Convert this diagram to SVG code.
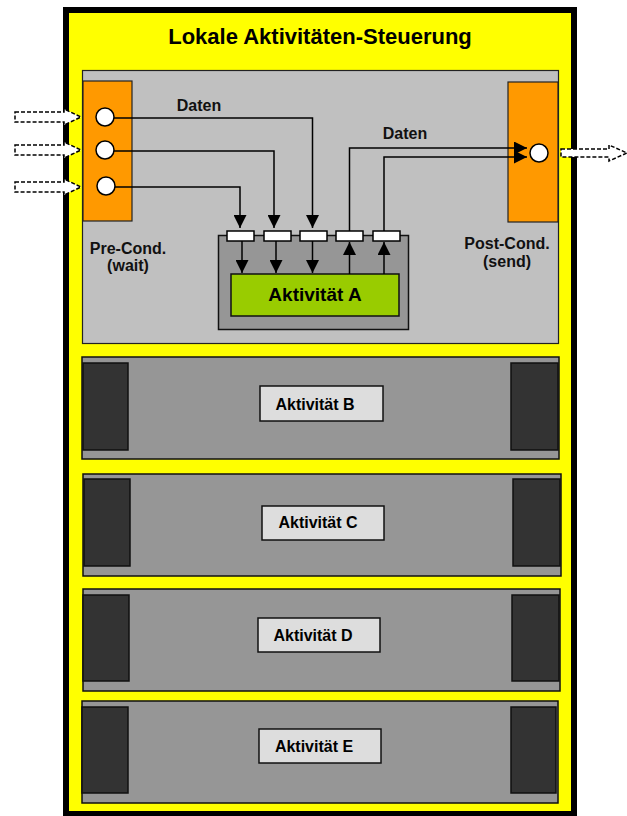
<svg xmlns="http://www.w3.org/2000/svg" width="627" height="816" viewBox="0 0 627 816">
<defs>
<marker id="ah" markerUnits="userSpaceOnUse" markerWidth="13" markerHeight="13" viewBox="0 0 13 13" refX="13" refY="6.5" orient="auto">
<path d="M0,0 L13,6.5 L0,13 Z" fill="#000"/>
</marker>
</defs>
<style>
.t{font-family:"Liberation Sans",Arial,sans-serif;font-weight:bold;fill:#000}
.lbl{font-family:"Liberation Sans",Arial,sans-serif;font-weight:bold;fill:#111;font-size:16px}
.panel{fill:#969696;stroke:#111;stroke-width:1.5}
.blk{fill:#333333;stroke:#111;stroke-width:1.5}
.abox{fill:#dddddd;stroke:#111;stroke-width:1.5}
.orange{fill:#ff9900;stroke:#222;stroke-width:1.2}
.circ{fill:#fff;stroke:#000;stroke-width:1.5}
.port{fill:#fff;stroke:#000;stroke-width:1.5}
.ln{fill:none;stroke:#000;stroke-width:1.5}
.dash{fill:#fff;stroke:#000;stroke-width:1.5;stroke-dasharray:4 2}
</style>
<rect x="66" y="10" width="508" height="804" fill="#ffff00" stroke="#000" stroke-width="6"/>
<text class="t" x="320" y="44" font-size="22" text-anchor="middle">Lokale Aktivitäten-Steuerung</text>

<g id="panelA">
<rect x="82.5" y="70.5" width="476" height="273" fill="#c0c0c0" stroke="#222" stroke-width="1.2"/>
</g>
<g id="precond">
<rect class="orange" x="83" y="81" width="49" height="140"/>
<circle class="circ" cx="105" cy="117" r="9"/>
<circle class="circ" cx="105" cy="150" r="9"/>
<circle class="circ" cx="106" cy="186" r="9"/>
<text class="lbl" x="128" y="254" text-anchor="middle">Pre-Cond.</text>
<text class="lbl" x="128" y="271" text-anchor="middle">(wait)</text>
</g>
<g id="postcond">
<rect class="orange" x="508" y="82" width="50" height="140"/>
<circle class="circ" cx="539" cy="153" r="9"/>
<text class="lbl" x="507" y="249" text-anchor="middle">Post-Cond.</text>
<text class="lbl" x="507" y="267" text-anchor="middle">(send)</text>
</g>
<g id="activityA">
<rect x="218.5" y="235.5" width="190" height="94" fill="#969696" stroke="#111" stroke-width="1.5"/>
<rect class="port" x="227" y="231" width="27" height="10"/>
<rect class="port" x="264" y="231" width="27" height="10"/>
<rect class="port" x="300" y="231" width="27" height="10"/>
<rect class="port" x="336" y="231" width="27" height="10"/>
<rect class="port" x="373" y="231" width="27" height="10"/>
<rect x="231" y="274" width="168" height="42" fill="#99cc00" stroke="#111" stroke-width="1.5"/>
<text class="t" x="315" y="301" font-size="19" text-anchor="middle">Aktivität A</text>
</g>

<g id="panelB">
<rect class="panel" x="82" y="357" width="477" height="102"/>
<rect class="blk" x="83" y="363" width="45" height="87"/>
<rect class="blk" x="511" y="363" width="47" height="87"/>
<rect class="abox" x="260" y="386" width="123" height="35"/>
<text class="t" x="315" y="410" font-size="16" text-anchor="middle">Aktivität B</text>
</g>
<g id="panelC">
<rect class="panel" x="83" y="474" width="478" height="102"/>
<rect class="blk" x="84" y="479" width="46" height="87"/>
<rect class="blk" x="513" y="479" width="47" height="87"/>
<rect class="abox" x="262" y="506" width="122" height="34"/>
<text class="t" x="318" y="528" font-size="16" text-anchor="middle">Aktivität C</text>
</g>
<g id="panelD">
<rect class="panel" x="83" y="589" width="477" height="102"/>
<rect class="blk" x="83" y="595" width="46" height="86"/>
<rect class="blk" x="512" y="595" width="47" height="86"/>
<rect class="abox" x="258" y="618" width="122" height="34"/>
<text class="t" x="313" y="641" font-size="16" text-anchor="middle">Aktivität D</text>
</g>
<g id="panelE">
<rect class="panel" x="82" y="701" width="476" height="102"/>
<rect class="blk" x="82" y="707" width="46" height="86"/>
<rect class="blk" x="511" y="707" width="45" height="86"/>
<rect class="abox" x="259" y="729" width="122" height="34"/>
<text class="t" x="314" y="752" font-size="16" text-anchor="middle">Aktivität E</text>
</g>

<g id="connectors">
<path class="dash" d="M15,112 H64 V109 L81,117 L64,125 V122 H15 Z"/>
<path class="dash" d="M15,145 H64 V142 L81,150 L64,158 V155 H15 Z"/>
<path class="dash" d="M15,182 H64 V179 L81,187 L64,195 V192 H15 Z"/>
<path class="dash" d="M561,149 H609 V145 L627,153 L609,161 V157 H561 Z"/>
<path class="ln" d="M114,118 H312.5 V228" marker-end="url(#ah)"/>
<path class="ln" d="M114,151 H274 V228" marker-end="url(#ah)"/>
<path class="ln" d="M115,187 H240 V228" marker-end="url(#ah)"/>
<path class="ln" stroke-width="2" d="M242,241 V273" marker-end="url(#ah)"/>
<path class="ln" stroke-width="2" d="M276,241 V273" marker-end="url(#ah)"/>
<path class="ln" stroke-width="2" d="M312.5,241 V273" marker-end="url(#ah)"/>
<path class="ln" stroke-width="2" d="M349.5,274 V242" marker-end="url(#ah)"/>
<path class="ln" stroke-width="2" d="M384,274 V242" marker-end="url(#ah)"/>
<path class="ln" d="M349.5,231 V148 H527" marker-end="url(#ah)"/>
<path class="ln" d="M384,231 V157 H527" marker-end="url(#ah)"/>
<text class="lbl" x="199" y="111" text-anchor="middle">Daten</text>
<text class="lbl" x="405" y="139" text-anchor="middle">Daten</text>
</g>
</svg>
